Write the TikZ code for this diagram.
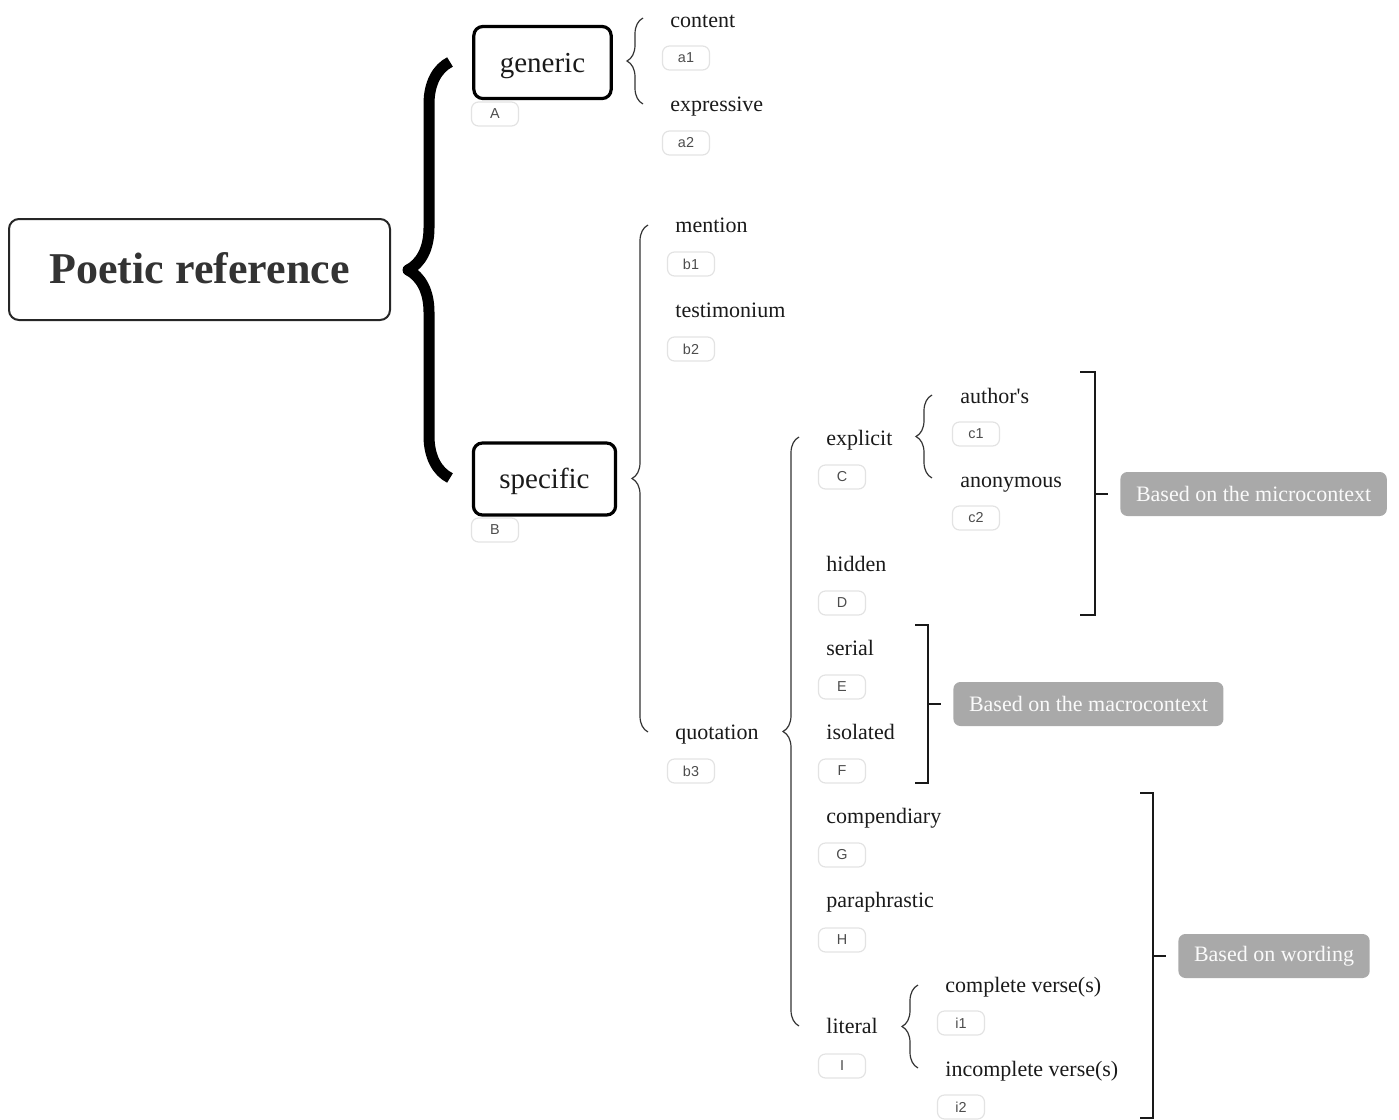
\documentclass[tikz,border=0pt]{standalone}
\usepackage{fontspec}
\setmainfont{Liberation Serif}[Ligatures=TeXOff]
\newfontfamily\tagfont{Liberation Sans}
\usetikzlibrary{decorations.pathreplacing}
\definecolor{ink}{HTML}{1A1A1A}
\definecolor{grayfill}{HTML}{A9A9A9}
\definecolor{tagline}{HTML}{E3E3E3}
\begin{document}
\begin{tikzpicture}[x=0.5pt,y=-0.5pt,
  lbl/.style={anchor=base west,inner sep=0pt,font=\fontsize{11}{13}\selectfont,text=ink},
  tagbox/.style={draw=tagline,line width=0.6pt,rounded corners=3.5pt,minimum width=23.5pt,minimum height=12pt,inner sep=0pt,font=\tagfont\fontsize{7.2}{8}\selectfont,text=black!70},
  catbox/.style={draw=black,line width=1.6pt,rounded corners=4.5pt,inner xsep=13pt,minimum height=36pt,text height=10pt,text depth=0.5pt,font=\fontsize{14.5}{16}\selectfont,text=ink},
  rootbox/.style={draw=black!85,line width=1pt,rounded corners=5pt,minimum width=190.5pt,minimum height=50.5pt,text height=14.5pt,text depth=1pt,font=\bfseries\fontsize{22}{26}\selectfont,text=black!80},
  graybox/.style={fill=grayfill,rounded corners=3.5pt,anchor=west,inner xsep=7.8pt,minimum height=22pt,font=\fontsize{11}{13}\selectfont,text=white!96!gray},
  thinbrace/.style={draw=black!80,line width=0.6pt,decorate,decoration={brace,amplitude=8pt}},
  bigbrace/.style={draw=black,line width=5.5pt,line join=round,decorate,decoration={brace,amplitude=21pt}},
  bracket/.style={draw=black!90,line width=1.2pt}
]
\useasboundingbox (0,0) rectangle (1399,1120);

% root and first level
\node[rootbox] (root) at (199.5,269.5) {Poetic reference};
\node[catbox] (generic) at (542.5,62.5) {generic};
\node[tagbox] (A) at (495,114) {A};
\node[catbox] (specific) at (544.5,479) {specific};
\node[tagbox] (B) at (495,530) {B};

% generic children
\node[lbl] (content) at (670,27) {content};
\node[tagbox] (a1) at (686,58) {a1};
\node[lbl] (expressive) at (670,111) {expressive};
\node[tagbox] (a2) at (686,143) {a2};

% specific children
\node[lbl] (mention) at (675,232) {mention};
\node[tagbox] (b1) at (691,264) {b1};
\node[lbl] (testimonium) at (675,317) {testimonium};
\node[tagbox] (b2) at (691,349) {b2};
\node[lbl] (quotation) at (675,739) {quotation};
\node[tagbox] (b3) at (691,771) {b3};

% quotation children
\node[lbl] (explicit) at (826,445) {explicit};
\node[tagbox] (C) at (842,477) {C};
\node[lbl] (hidden) at (826,571) {hidden};
\node[tagbox] (D) at (842,603) {D};
\node[lbl] (serial) at (826,655) {serial};
\node[tagbox] (E) at (842,687) {E};
\node[lbl] (isolated) at (826,739) {isolated};
\node[tagbox] (F) at (842,771) {F};
\node[lbl] (compendiary) at (826,823) {compendiary};
\node[tagbox] (G) at (842,855) {G};
\node[lbl] (paraphrastic) at (826,907) {paraphrastic};
\node[tagbox] (H) at (842,940) {H};
\node[lbl] (literal) at (826,1033) {literal};
\node[tagbox] (I) at (842,1066) {I};

% explicit children
\node[lbl] (authors) at (960,403) {author's};
\node[tagbox] (c1) at (976,434) {c1};
\node[lbl] (anonymous) at (960,487) {anonymous};
\node[tagbox] (c2) at (976,518) {c2};

% literal children
\node[lbl] (complete) at (945,992) {complete verse(s)};
\node[tagbox] (i1) at (961,1023) {i1};
\node[lbl] (incomplete) at (945,1076) {incomplete verse(s)};
\node[tagbox] (i2) at (961,1107) {i2};

% grouping labels
\node[graybox] (micro) at (1120,494) {Based on the microcontext};
\node[graybox] (macro) at (953,704) {Based on the macrocontext};
\node[graybox] (wording) at (1178,956) {Based on wording};

% braces
\coordinate (bigB) at (450,478);
\coordinate (bigT) at (450,62);
\draw[bigbrace] (bigB) -- (bigT);
\coordinate (genB) at (643,104);
\coordinate (genT) at (643,18);
\draw[thinbrace] (genB) -- (genT);
\coordinate (speB) at (648,732);
\coordinate (speT) at (648,225);
\draw[thinbrace] (speB) -- (speT);
\coordinate (quoB) at (799,1026);
\coordinate (quoT) at (799,437);
\draw[thinbrace] (quoB) -- (quoT);
\coordinate (expB) at (932,478);
\coordinate (expT) at (932,395);
\draw[thinbrace] (expB) -- (expT);
\coordinate (litB) at (918,1068);
\coordinate (litT) at (918,985);
\draw[thinbrace] (litB) -- (litT);

% brackets
\coordinate (mi1) at (1080,372);
\coordinate (mi2) at (1080,615);
\coordinate (miM) at (1095,494);
\draw[bracket] (mi1) -- (1095,372) -- (1095,615) -- (mi2);
\draw[bracket,shorten >=6pt] (miM) -- (micro.west);

\coordinate (ma1) at (915,625);
\coordinate (ma2) at (915,783);
\coordinate (maM) at (928,704);
\draw[bracket] (ma1) -- (928,625) -- (928,783) -- (ma2);
\draw[bracket,shorten >=6pt] (maM) -- (macro.west);

\coordinate (wo1) at (1140,793);
\coordinate (wo2) at (1140,1118);
\coordinate (woM) at (1153,956);
\draw[bracket] (wo1) -- (1153,793) -- (1153,1118) -- (wo2);
\draw[bracket,shorten >=6pt] (woM) -- (wording.west);
\end{tikzpicture}
\end{document}
